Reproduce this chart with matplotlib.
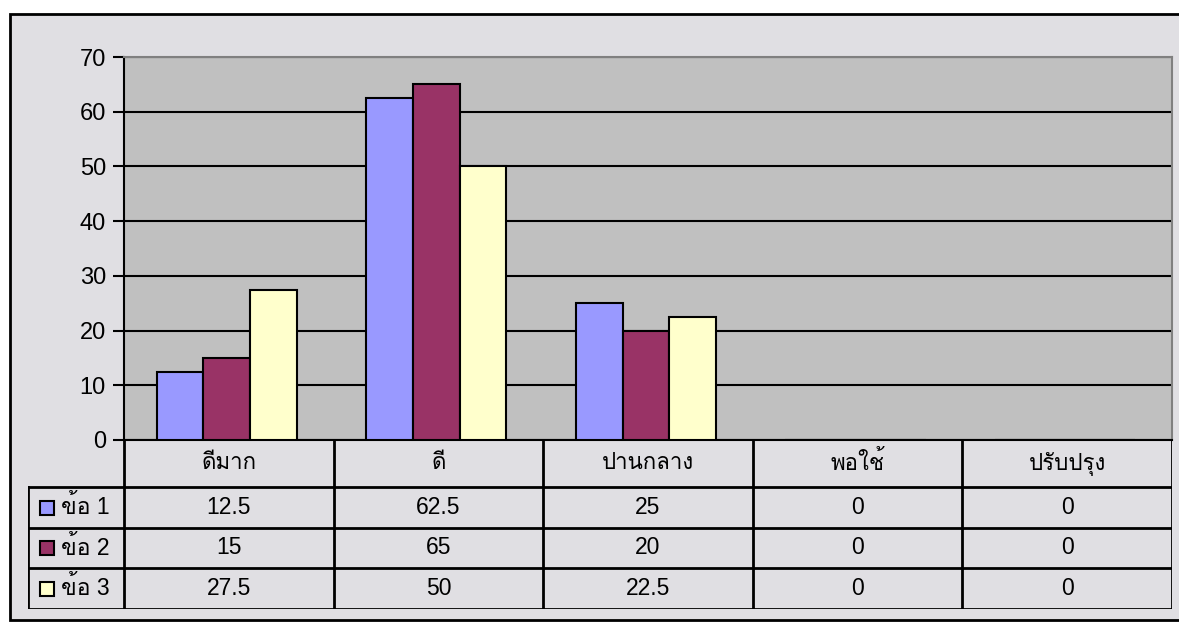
import matplotlib
matplotlib.use("Agg")
import matplotlib.pyplot as plt
from matplotlib import font_manager
from matplotlib.patches import Rectangle
import numpy as np

categories = ["ดีมาก", "ดี", "ปานกลาง", "พอใช้", "ปรับปรุง"]
series_names = ["ข้อ 1", "ข้อ 2", "ข้อ 3"]
item1 = [12.5, 62.5, 25, 0, 0]
item2 = [15, 65, 20, 0, 0]
item3 = [27.5, 50, 22.5, 0, 0]
series_colors = ["#9999FF", "#993366", "#FFFFCC"]

# find some installed font that can draw Thai
thai_font = None
for f in font_manager.fontManager.ttflist:
    try:
        from matplotlib.ft2font import FT2Font
        if 0x0E14 in FT2Font(f.fname).get_charmap():
            thai_font = f.name
            break
    except Exception:
        pass
families = ["Liberation Sans"]
if thai_font:
    families.append(thai_font)
families.append("DejaVu Sans")
plt.rcParams["font.family"] = families

W, H = 1179, 624
fig = plt.figure(figsize=(W / 100, H / 100), dpi=100)
fig.patch.set_facecolor("white")

# outer chart area (right edge runs off the picture)
fig.patches.append(Rectangle((10 / W, 4 / H), 1.01, (610 - 4) / H,
                             transform=fig.transFigure, facecolor="#E0DFE3",
                             edgecolor="black", linewidth=2, zorder=-5))

def px(l, t, r, b):
    return [l / W, 1 - b / H, (r - l) / W, (b - t) / H]

ax = fig.add_axes(px(124, 57, 1172, 440))
ax.set_facecolor("#C0C0C0")
x = np.arange(len(categories))
bw = 0.2227
data = [item1, item2, item3]
for i, vals in enumerate(data):
    ax.bar(x + (i - 1) * bw - 0.01, vals, width=bw, color=series_colors[i],
           edgecolor="black", linewidth=1.5, zorder=3)
ax.set_xlim(-0.5, len(categories) - 0.5)
ax.set_ylim(0, 70)
ax.set_yticks(range(0, 71, 10))
ax.yaxis.grid(True, color="black", linewidth=1.5, zorder=1)
ax.set_axisbelow(True)
ax.set_xticks([])
ax.tick_params(axis="y", labelsize=17, length=8, width=1.5, pad=5)
for s in ["top", "right"]:
    ax.spines[s].set_color("#808080")
    ax.spines[s].set_linewidth(1.5)
ax.spines["left"].set_linewidth(1.5)
ax.spines["bottom"].set_linewidth(1.5)

# data table under the chart
tax = fig.add_axes(px(28, 440, 1172, 609))
tax.set_xlim(0, 1172 - 28)
tax.set_ylim(609 - 440, 0)
tax.axis("off")
col0 = 124 - 28
cw = (1172 - 124) / len(categories)
header_h = 47
row_h = 40.5
lc = dict(color="black", linewidth=2, solid_capstyle="projecting")
# horizontal lines
for r in range(0, 4):
    y = header_h + r * row_h
    tax.plot([0, 1144], [y, y], **lc)
# vertical lines
tax.plot([0, 0], [header_h, header_h + 3 * row_h], **lc)
for c in range(len(categories) + 1):
    xx = col0 + c * cw
    tax.plot([xx, xx], [0, header_h + 3 * row_h], **lc)
for c, name in enumerate(categories):
    tax.text(col0 + (c + 0.5) * cw, header_h / 2, name, ha="center",
             va="center", fontsize=16)
for r, vals in enumerate(data):
    yc = header_h + (r + 0.5) * row_h
    tax.add_patch(Rectangle((12, yc - 6.5), 14, 14, facecolor=series_colors[r],
                            edgecolor="black", linewidth=1.5))
    tax.text(33, yc, series_names[r], ha="left", va="center", fontsize=16.5)
    for c, v in enumerate(vals):
        tax.text(col0 + (c + 0.5) * cw, yc, f"{v:g}", ha="center",
                 va="center", fontsize=16.5)

fig.savefig("out.png", dpi=100)
